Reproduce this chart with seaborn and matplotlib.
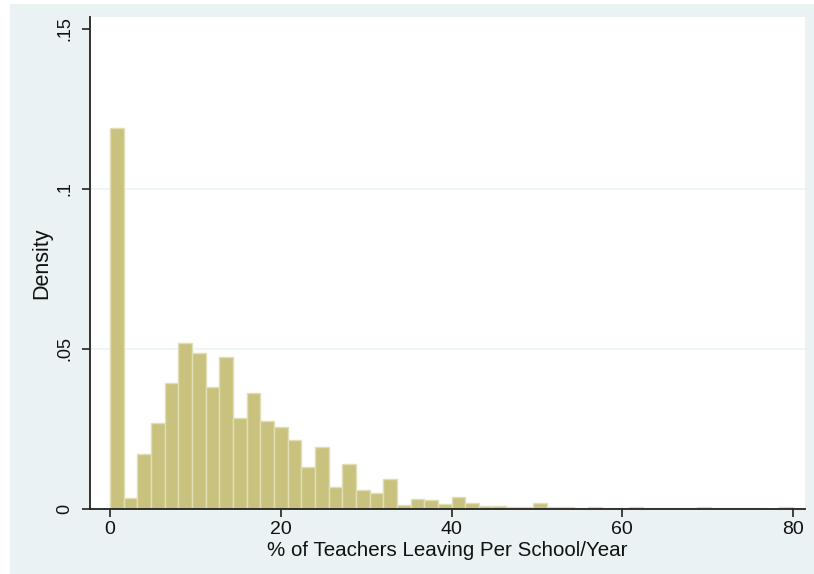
import numpy as np
import pandas as pd
import matplotlib
matplotlib.use("Agg")
import matplotlib.pyplot as plt
from matplotlib.patches import Rectangle
import seaborn as sns

# --- data (50 bins of width 1.6 from 0 to 80) ---
BIN_WIDTH = 1.6
N_BINS = 50
density = [
    0.1190, 0.0033, 0.0171, 0.0270, 0.0394, 0.0518, 0.0487, 0.0381, 0.0474, 0.0283,
    0.0362, 0.0274, 0.0255, 0.0216, 0.0132, 0.0193, 0.0069, 0.0140, 0.0059, 0.0050,
    0.0095, 0.0012, 0.0032, 0.0028, 0.0016, 0.0038, 0.0020, 0.0010, 0.0010, 0.0007,
    0.0007, 0.0020, 0.0005, 0.0005, 0.0004, 0.0005, 0.0004, 0.0004, 0.0005, 0.0004,
    0.0004, 0.0004, 0.0004, 0.0005, 0.0004, 0.0004, 0.0004, 0.0004, 0.0000, 0.0006,
]
x_ticks = [0, 20, 40, 60, 80]
y_ticks = [0, 0.05, 0.1, 0.15]
y_tick_labels = ["0", ".05", ".1", ".15"]
x_label = "% of Teachers Leaving Per School/Year"
y_label = "Density"

BG = "#EAF2F3"
BAR = "#C9C27F"
BAR_EDGE = "#E2DEB3"
TXT = "#111111"

sns.set_style("ticks")
plt.rcParams["font.family"] = ["Liberation Sans", "DejaVu Sans"]

mids = (np.arange(N_BINS) + 0.5) * BIN_WIDTH
df = pd.DataFrame({"mid": mids, "density": density})

fig = plt.figure(figsize=(8.14, 5.74), dpi=100, facecolor="white")
# Stata-like outer background, kept behind the axes
fig.patches.append(Rectangle((10 / 814, 0), 804 / 814, 570 / 574,
                             transform=fig.transFigure, facecolor=BG,
                             edgecolor="none", zorder=-10))

ax = fig.add_axes([90 / 814, (574 - 509) / 574, 715 / 814, 492 / 574])
ax.set_facecolor("white")
ax.set_zorder(1)

sns.histplot(data=df, x="mid", weights="density",
             binwidth=BIN_WIDTH, binrange=(0, N_BINS * BIN_WIDTH), stat="count",
             color=BAR, edgecolor=BAR_EDGE, linewidth=1.0, alpha=1.0, ax=ax)

ax.set_xlim(-2.34, 81.4)
ax.set_ylim(0, 0.1537)

ax.set_xticks(x_ticks)
ax.set_xticklabels([str(t) for t in x_ticks], fontsize=14, color=TXT)
ax.set_yticks(y_ticks)
ax.set_yticklabels(y_tick_labels, fontsize=13, color=TXT, rotation=90, va="center")

ax.set_xlabel(x_label, fontsize=14.8, color=TXT, labelpad=2)
ax.set_ylabel(y_label, fontsize=15.5, color=TXT, labelpad=3)

ax.tick_params(axis="x", length=6, width=1.2, color="#222222", pad=3)
ax.tick_params(axis="y", length=6, width=1.2, color="#222222", pad=6)

# grid only at the interior ticks
ax.set_axisbelow(True)
ax.grid(axis="y", color=BG, linewidth=1.2)
ax.grid(axis="x", visible=False)
glines = ax.get_ygridlines()
glines[0].set_visible(False)
glines[-1].set_visible(False)

for side in ["top", "right"]:
    ax.spines[side].set_visible(False)
for side in ["left", "bottom"]:
    ax.spines[side].set_color("#222222")
    ax.spines[side].set_linewidth(1.3)

fig.savefig("out.png", dpi=100, facecolor=fig.get_facecolor())
